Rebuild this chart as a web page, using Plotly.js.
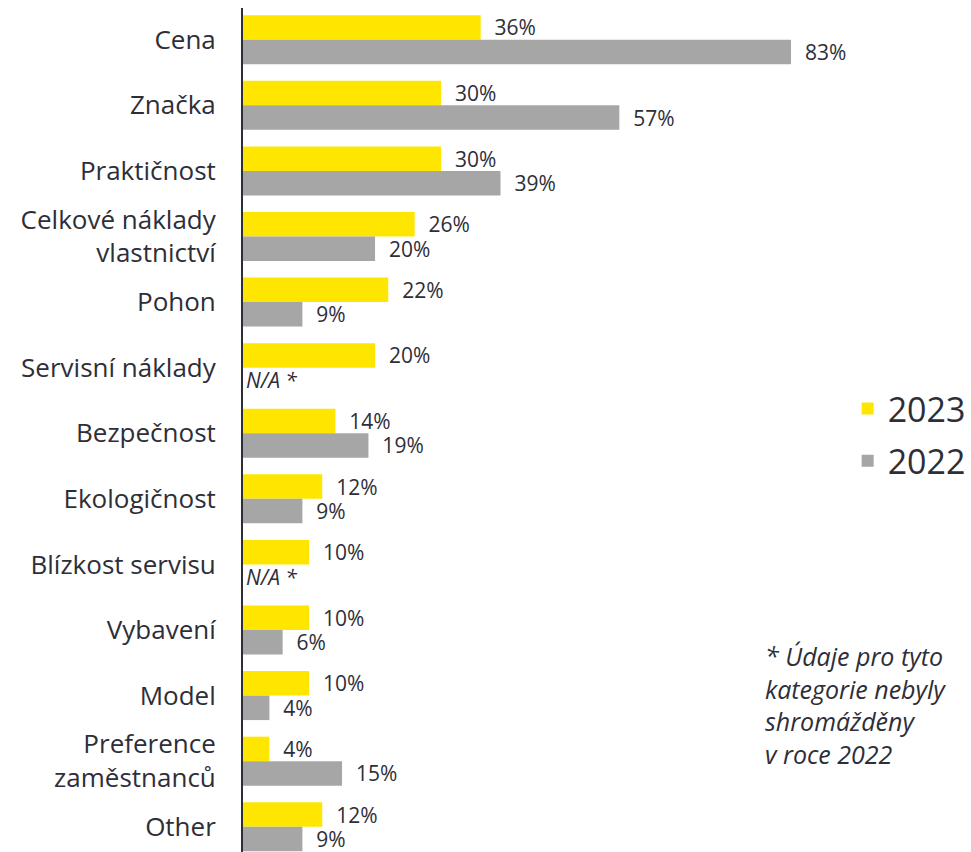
<!DOCTYPE html>
<html>
<head>
<meta charset="utf-8">
<script src="https://cdn.plot.ly/plotly-3.0.1.min.js"></script>
<style>html,body{margin:0;padding:0;background:#fff;}#chart{width:971px;height:852px;}</style>
</head>
<body>
<div id="chart"></div>
<script>
var categories = ["Cena", "Značka", "Praktičnost", "Celkové náklady<br>vlastnictví", "Pohon", "Servisní náklady", "Bezpečnost", "Ekologičnost", "Blízkost servisu", "Vybavení", "Model", "Preference<br>zaměstnanců", "Other"];
var values2023 = [36, 30, 30, 26, 22, 20, 14, 12, 10, 10, 10, 4, 12];
var values2022 = [83, 57, 39, 20, 9, null, 19, 9, null, 6, 4, 15, 9];
var seriesNames = ["2023", "2022"];
var naLabel = "N/A *";
var footnoteLines = ["* Údaje pro tyto", "kategorie nebyly", "shromážděny", "v roce 2022"];

var FONT = "Open Sans, Noto Sans, sans-serif";
var DARK = "#2E2E38";
var PAD = "\u00a0\u00a0";

function label(v) { return v === null ? "<i>" + naLabel + "</i>" : PAD + v + "%"; }

var t2023 = {
  type: "bar", orientation: "h", name: seriesNames[0],
  y: categories, x: values2023,
  marker: {color: "#FFE600"},
  text: values2023.map(label), textposition: "outside", constraintext: "none",
  textfont: {family: FONT, size: 21, color: DARK},
  cliponaxis: false, hoverinfo: "none", legendgroup: "a"
};
var t2022 = {
  type: "bar", orientation: "h", name: seriesNames[1],
  y: categories, x: values2022.map(function (v) { return v === null ? 0 : v; }),
  marker: {color: "#A6A6A6"},
  text: values2022.map(label), textposition: "outside", constraintext: "none",
  textfont: {family: FONT, size: 21, color: DARK},
  cliponaxis: false, hoverinfo: "none", legendgroup: "b"
};

var annotations = [{
  text: footnoteLines.map(function (l) { return "<i>" + l + "</i>"; }).join("<br>"),
  xref: "paper", yref: "paper",
  x: (766 - 243) / 728, y: 1 - (637 - 8) / 844,
  xanchor: "left", yanchor: "top", showarrow: false, align: "left",
  font: {family: FONT, size: 25, color: DARK}
}];

var layout = {
  width: 971, height: 852,
  margin: {l: 243, r: 0, t: 8, b: 0},
  paper_bgcolor: "#fff", plot_bgcolor: "#fff",
  barmode: "group", bargap: 0.253, bargroupgap: 0,
  font: {family: FONT, color: DARK},
  xaxis: {range: [0, 728 / 6.639], visible: false, fixedrange: true},
  yaxis: {
    range: [12.385, -0.484], showline: true, linecolor: DARK, linewidth: 2,
    ticks: "", showgrid: false, zeroline: false, ticklabelstandoff: 20,
    tickfont: {family: FONT, size: 26, color: DARK}, fixedrange: true
  },
  showlegend: true,
  legend: {
    x: (851 - 243) / 728, y: 1 - (380 - 8) / 844, xanchor: "left", yanchor: "top",
    font: {family: FONT, size: 34, color: DARK},
    traceorder: "grouped", tracegroupgap: 5, itemwidth: 30, bgcolor: "rgba(0,0,0,0)"
  },
  annotations: annotations
};

Plotly.newPlot("chart", [t2023, t2022], layout, {displayModeBar: false, staticPlot: true});
</script>
</body>
</html>
